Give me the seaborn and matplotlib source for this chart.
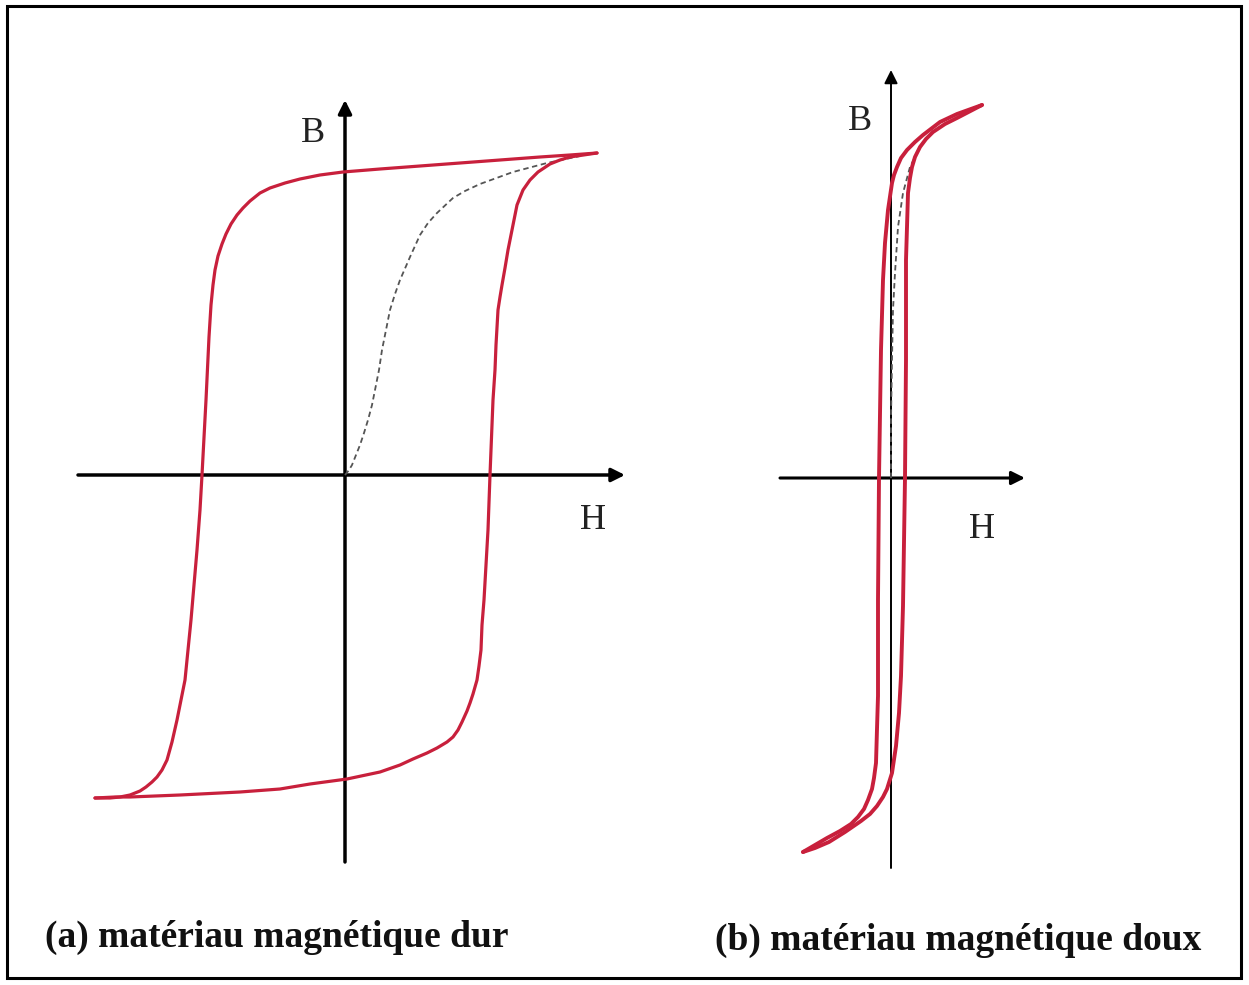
import matplotlib
matplotlib.use("Agg")
import matplotlib.pyplot as plt
from matplotlib.patches import Rectangle
import seaborn as sns
import pandas as pd

sns.set_theme(style="white")
plt.rcParams["font.family"] = ["Liberation Serif", "DejaVu Serif"]

# ---- (a) hard magnetic material: hysteresis loop (arbitrary units) ----
hard_desc_H = [252, 225, 195, 155, 115, 75, 35, -2, -25, -45, -60, -75, -85, -95, -102,
               -108, -114, -119, -123, -127, -130, -132, -134, -136, -139, -143, -145,
               -148, -151, -154, -157, -160, -164, -168, -173, -178, -183, -188, -193,
               -199, -205, -215, -225, -235, -250]
hard_desc_B = [322, 320, 318, 315, 312, 309, 306, 303, 300, 296, 292, 287, 282, 274, 267,
               260, 251, 241, 231, 219, 205, 190, 170, 138, 75, 0, -35,
               -75, -110, -145, -175, -205, -225, -245, -267, -285, -295, -302, -307,
               -312, -316, -320, -322, -323, -323]
hard_asc_H = [-250, -230, -215, -165, -105, -65, -35, 2, 35, 55, 68, 82, 92, 102, 108,
              113, 117, 122, 125, 128, 132, 134, 136, 137, 139, 141, 143, 145, 148, 150,
              151, 153, 155, 157, 160, 163, 167, 172, 178, 185, 193, 205, 215, 225, 252]
hard_asc_B = [-323, -322, -322, -320, -317, -314, -309, -304, -297, -290, -284, -278, -273,
              -267, -262, -255, -247, -236, -228, -219, -205, -191, -175, -150, -125, -90,
              -55, 0, 75, 105, 130, 165, 178, 190, 207, 225, 245, 270, 285, 295, 303, 311,
              315, 318, 322]
hard_init_H = [0, 4, 7, 11, 15, 19, 23, 27, 30, 34, 37, 41, 45, 50, 55, 65, 75, 83, 92,
               108, 120, 135, 168, 202, 235]
hard_init_B = [0, 5, 10, 20, 30, 42, 55, 70, 85, 105, 125, 145, 165, 181, 195, 218, 240,
               252, 262, 277, 284, 291, 303, 312, 319]

# ---- (b) soft magnetic material ----
soft_desc_H = [91, 66, 49, 32, 24, 16, 10, 6, 3, 1, -3, -6, -8, -10, -12, -13, -13, -14,
               -15, -17, -19, -23, -27, -33, -40, -51, -64, -76, -88]
soft_desc_B = [373, 364, 356, 343, 336, 328, 320, 311, 303, 295, 268, 235, 198, 128, 0,
               -122, -218, -251, -285, -300, -311, -322, -331, -339, -346, -353, -360,
               -367, -374]
soft_asc_H = [-88, -76, -62, -46, -30, -21, -14, -8, -4, 1, 5, 8, 10, 12, 14, 15, 15, 16,
              17, 19, 21, 24, 29, 35, 42, 54, 66, 91]
soft_asc_B = [-374, -370, -364, -354, -343, -336, -328, -319, -311, -295, -268, -235, -198,
              -128, 0, 118, 218, 251, 285, 300, 311, 321, 331, 339, 346, 354, 360, 373]
soft_init_H = [0, 0, 1, 2, 4, 7, 12, 19, 29]
soft_init_B = [0, 58, 118, 168, 205, 251, 285, 311, 331]

captions = ["(a) matériau magnétique dur", "(b) matériau magnétique doux"]

RED = "#c8203c"
W, H = 1249, 985
fig = plt.figure(figsize=(W / 100, H / 100), dpi=100)


def px_axes(x0, y0, x1, y1):
    """Axes covering a pixel box (top-left origin)."""
    return fig.add_axes([x0 / W, 1 - y1 / H, (x1 - x0) / W, (y1 - y0) / H])


def draw_loop(ax, dH, dB, aH, aB, iH, iB, lw):
    for hh, bb in ((dH, dB), (aH, aB)):
        sns.lineplot(data=pd.DataFrame({"H": hh, "B": bb}), x="H", y="B", sort=False,
                     ax=ax, color=RED, lw=lw, estimator=None, zorder=3,
                     solid_joinstyle="round", solid_capstyle="round")
    sns.lineplot(data=pd.DataFrame({"H": iH, "B": iB}), x="H", y="B", sort=False,
                 ax=ax, color="#555555", lw=1.3, estimator=None, zorder=2,
                 linestyle=(0, (3, 2)))


def draw_axes(ax, hx, by, lwh, lwv):
    ax.annotate("", xy=(hx[1], 0), xytext=(hx[0], 0),
                arrowprops=dict(arrowstyle="-|>", lw=lwh, color="black",
                                mutation_scale=20, shrinkA=0, shrinkB=0), zorder=1)
    ax.annotate("", xy=(0, by[1]), xytext=(0, by[0]),
                arrowprops=dict(arrowstyle="-|>", lw=lwv, color="black",
                                mutation_scale=20, shrinkA=0, shrinkB=0), zorder=1)


# panel (a): origin at pixel (345, 475)
ax_a = px_axes(60, 80, 650, 890)
ax_a.set_xlim(60 - 345, 650 - 345)
ax_a.set_ylim(475 - 890, 475 - 80)
draw_axes(ax_a, (-267, 280), (-387, 375), 2.5, 2.5)
draw_loop(ax_a, hard_desc_H, hard_desc_B, hard_asc_H, hard_asc_B,
          hard_init_H, hard_init_B, 2.3)
ax_a.text(-32, 342, "B", fontsize=26, ha="center", va="center", color="#222222")
ax_a.text(248, -45, "H", fontsize=26, ha="center", va="center", color="#222222")

# panel (b): origin at pixel (891, 478)
ax_b = px_axes(760, 55, 1040, 890)
ax_b.set_xlim(760 - 891, 1040 - 891)
ax_b.set_ylim(478 - 890, 478 - 55)
draw_axes(ax_b, (-111, 134), (-390, 408), 2.2, 1.4)
draw_loop(ax_b, soft_desc_H, soft_desc_B, soft_asc_H, soft_asc_B,
          soft_init_H, soft_init_B, 2.8)
ax_b.text(-31, 357, "B", fontsize=26, ha="center", va="center", color="#222222")
ax_b.text(91, -52, "H", fontsize=26, ha="center", va="center", color="#222222")

for ax in (ax_a, ax_b):
    ax.set_axis_off()
    ax.patch.set_alpha(0)
    leg = ax.get_legend()
    if leg:
        leg.remove()

fig.text(45 / W, 1 - 937 / H, captions[0], fontsize=27, fontweight="bold",
         ha="left", va="center", color="#111111")
fig.text(715 / W, 1 - 940 / H, captions[1], fontsize=27, fontweight="bold",
         ha="left", va="center", color="#111111")

fig.patches.append(Rectangle((7 / W, 1 - 978 / H), (1241 - 7) / W, (978 - 6) / H,
                             transform=fig.transFigure, fill=False,
                             edgecolor="black", lw=2.2))

fig.savefig("out.png", dpi=100)
